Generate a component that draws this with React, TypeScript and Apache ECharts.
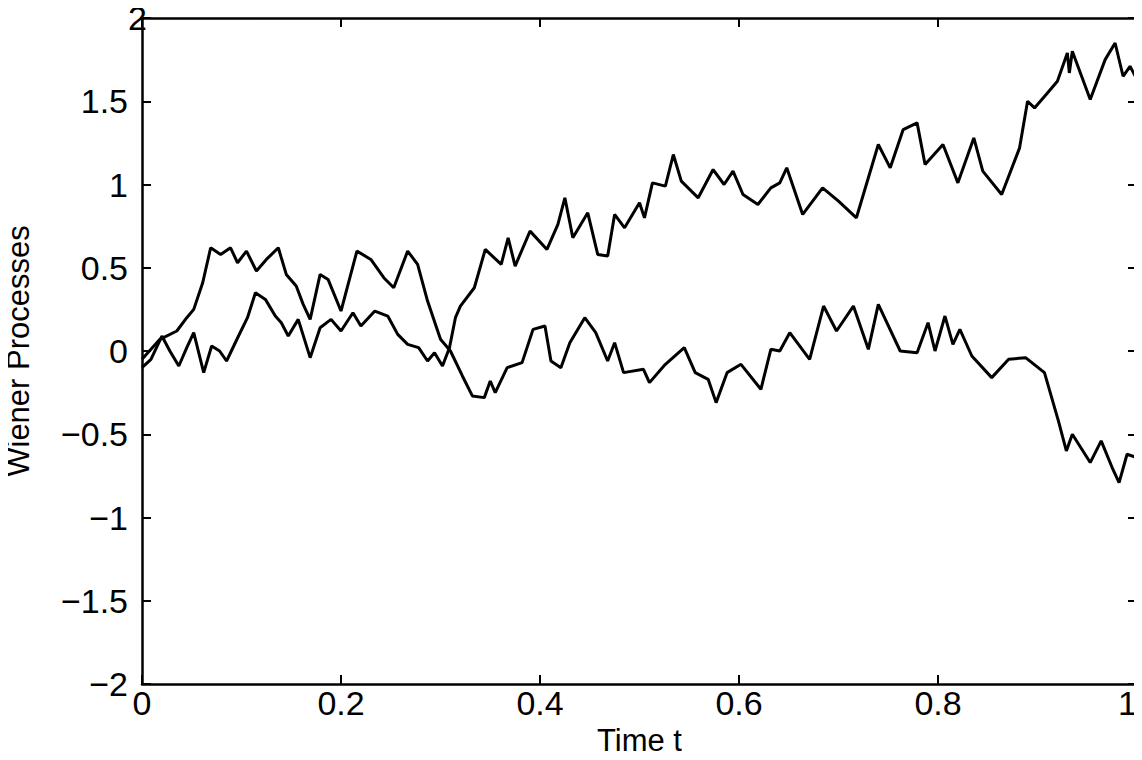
import { useEffect, useRef } from "react";
import * as echarts from "echarts";

// 两条维纳过程样本路径 [t, W(t)]
const pathA: [number, number][] = [
  [0, -0.1], [0.009, -0.05], [0.02, 0.09], [0.028, 0.0], [0.037, -0.09], [0.045, 0.02],
  [0.052, 0.11], [0.062, -0.13], [0.07, 0.03], [0.078, 0.0], [0.085, -0.06], [0.097, 0.09],
  [0.106, 0.2], [0.114, 0.35], [0.124, 0.31], [0.134, 0.21], [0.14, 0.17], [0.147, 0.09],
  [0.157, 0.19], [0.169, -0.04], [0.179, 0.14], [0.19, 0.19], [0.2, 0.12], [0.212, 0.23],
  [0.22, 0.15], [0.234, 0.24], [0.247, 0.21], [0.257, 0.1], [0.267, 0.04], [0.278, 0.02],
  [0.287, -0.06], [0.294, -0.01], [0.302, -0.09], [0.309, 0.02], [0.315, 0.2], [0.32, 0.27],
  [0.334, 0.38], [0.345, 0.61], [0.361, 0.52], [0.368, 0.68], [0.375, 0.51], [0.39, 0.72],
  [0.407, 0.61], [0.418, 0.76], [0.425, 0.92], [0.433, 0.68], [0.448, 0.83], [0.458, 0.58],
  [0.468, 0.57], [0.475, 0.82], [0.485, 0.74], [0.5, 0.89], [0.505, 0.8], [0.513, 1.01],
  [0.526, 0.99], [0.534, 1.18], [0.542, 1.02], [0.559, 0.92], [0.574, 1.09], [0.585, 1.0],
  [0.594, 1.08], [0.604, 0.94], [0.619, 0.88], [0.632, 0.98], [0.641, 1.01], [0.648, 1.1],
  [0.664, 0.82], [0.684, 0.98], [0.7, 0.9], [0.718, 0.8], [0.74, 1.24], [0.752, 1.1],
  [0.765, 1.33], [0.779, 1.37], [0.787, 1.12], [0.805, 1.24], [0.82, 1.01], [0.836, 1.28],
  [0.845, 1.08], [0.864, 0.94], [0.882, 1.22], [0.89, 1.5], [0.897, 1.46], [0.91, 1.55],
  [0.92, 1.62], [0.93, 1.79], [0.932, 1.67], [0.935, 1.8], [0.953, 1.51], [0.968, 1.75],
  [0.978, 1.85], [0.986, 1.65], [0.993, 1.71], [1.0, 1.63],
];

const pathB: [number, number][] = [
  [0, -0.05], [0.018, 0.07], [0.035, 0.12], [0.045, 0.2], [0.052, 0.25], [0.061, 0.41],
  [0.069, 0.62], [0.079, 0.58], [0.089, 0.62], [0.096, 0.53], [0.105, 0.6], [0.115, 0.48],
  [0.125, 0.55], [0.137, 0.62], [0.145, 0.46], [0.155, 0.39], [0.162, 0.28], [0.169, 0.19],
  [0.179, 0.46], [0.187, 0.43], [0.2, 0.24], [0.216, 0.6], [0.23, 0.55], [0.243, 0.44],
  [0.253, 0.38], [0.267, 0.6], [0.277, 0.52], [0.287, 0.3], [0.3, 0.07], [0.31, 0.0],
  [0.322, -0.15], [0.332, -0.27], [0.344, -0.28], [0.35, -0.18], [0.355, -0.25], [0.367, -0.1],
  [0.382, -0.07], [0.393, 0.13], [0.405, 0.15], [0.411, -0.06], [0.421, -0.1], [0.43, 0.05],
  [0.445, 0.2], [0.456, 0.11], [0.468, -0.06], [0.475, 0.05], [0.484, -0.13], [0.504, -0.11],
  [0.51, -0.19], [0.526, -0.08], [0.545, 0.02], [0.556, -0.13], [0.569, -0.17], [0.577, -0.31],
  [0.588, -0.13], [0.602, -0.08], [0.622, -0.23], [0.632, 0.01], [0.641, 0.0], [0.651, 0.11],
  [0.671, -0.05], [0.685, 0.27], [0.698, 0.12], [0.715, 0.27], [0.73, 0.01], [0.74, 0.28],
  [0.762, 0.0], [0.779, -0.01], [0.79, 0.17], [0.797, 0.0], [0.807, 0.21], [0.815, 0.04],
  [0.822, 0.13], [0.834, -0.03], [0.854, -0.16], [0.871, -0.05], [0.888, -0.04], [0.907, -0.13],
  [0.921, -0.42], [0.929, -0.6], [0.935, -0.5], [0.953, -0.67], [0.964, -0.54], [0.975, -0.7],
  [0.982, -0.79], [0.99, -0.62], [1.0, -0.64],
];

const fmt = (v: number) => (v < 0 ? "\u2212" + String(-v) : String(v));

export default function App() {
  const chartRef = useRef<HTMLDivElement>(null);

  useEffect(() => {
    if (!chartRef.current) return;
    const chart = echarts.init(chartRef.current, undefined, { renderer: "svg" });
    const font = "'Liberation Sans', Arial, sans-serif";
    const axisLine = () => ({ show: true, onZero: false, lineStyle: { color: "#000", width: 2.5 } });
    const tick = () => ({ show: true, inside: true, length: 9, lineStyle: { color: "#000", width: 2 } });

    chart.setOption({
      animation: false,
      backgroundColor: "#fff",
      grid: {
        left: 142, right: 5, top: 18, bottom: 76,
        outerBoundsMode: "none", containLabel: false,
        show: false,
      },
      xAxis: [
        {
          type: "value", min: 0, max: 1, interval: 0.2, position: "bottom",
          axisLine: axisLine(), axisTick: tick(), splitLine: { show: false },
          axisLabel: { color: "#000", fontSize: 34, fontFamily: font, margin: 2, formatter: fmt, alignMaxLabel: "right" },
          name: "Time t", nameLocation: "middle", nameGap: 36,
          nameTextStyle: { color: "#000", fontSize: 31, fontFamily: font },
        },
        {
          type: "value", min: 0, max: 1, interval: 0.2, position: "top",
          axisLine: axisLine(), axisTick: tick(), axisLabel: { show: false }, splitLine: { show: false },
        },
      ],
      yAxis: [
        {
          type: "value", min: -2, max: 2, interval: 0.5, position: "left",
          axisLine: axisLine(), axisTick: tick(), splitLine: { show: false },
          axisLabel: { color: "#000", fontSize: 34, fontFamily: font, margin: 14, formatter: fmt, alignMaxLabel: "bottom" },
          name: "Wiener Processes", nameLocation: "middle", nameGap: 108,
          nameTextStyle: { color: "#000", fontSize: 31, fontFamily: font },
        },
        {
          type: "value", min: -2, max: 2, interval: 0.5, position: "right",
          axisLine: axisLine(), axisTick: tick(), axisLabel: { show: false }, splitLine: { show: false },
        },
      ],
      series: [
        {
          type: "line", data: pathA, showSymbol: false, silent: true,
          lineStyle: { color: "#000", width: 3 },
        },
        {
          type: "line", data: pathB, showSymbol: false, silent: true,
          lineStyle: { color: "#000", width: 3 },
        },
      ],
    });

    return () => chart.dispose();
  }, []);

  return <div ref={chartRef} style={{ width: 1142, height: 760, margin: -8 }} />;
}
